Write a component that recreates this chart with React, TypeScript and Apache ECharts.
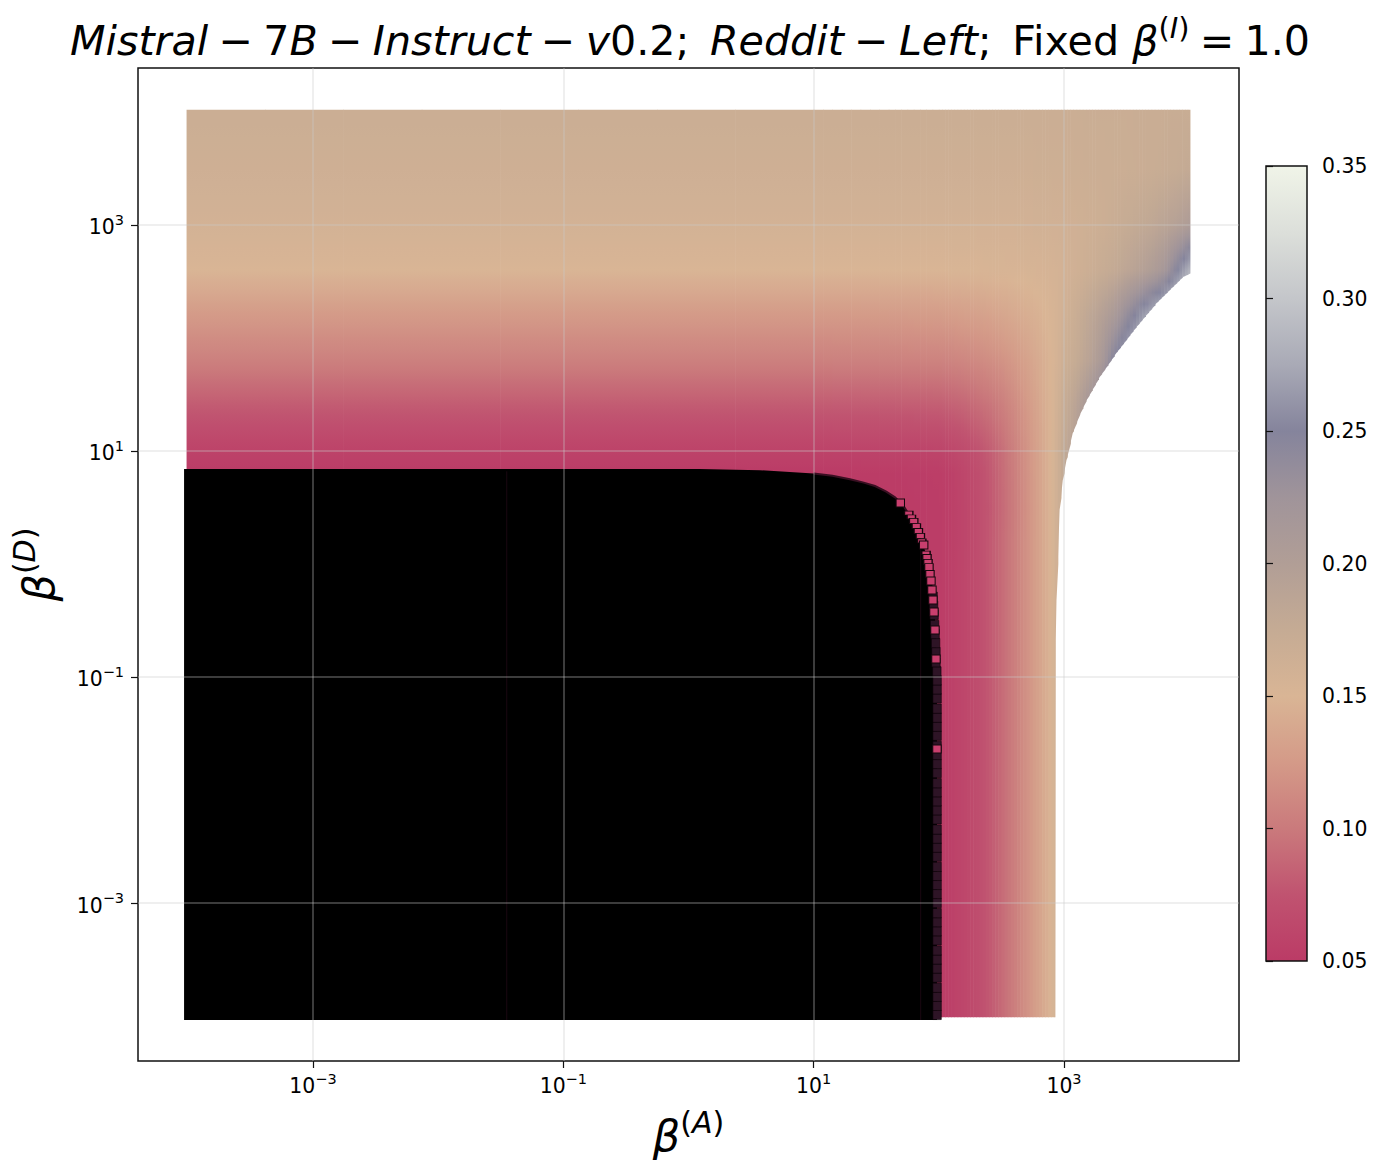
import React, { useEffect, useRef } from "react";
import * as echarts from "echarts";

const FONT = "DejaVu Sans";
const decadeTicks = [1e-3, 1e-1, 1e1, 1e3];
const colorbarColors = ["#bb3b66", "#c05370", "#ca7a7c", "#d49a88", "#d9b595", "#c5ab94", "#b19e96", "#a0949a", "#85849c", "#a9aab6", "#c4c6ca", "#dcdfda", "#f0f4e8"];
const colorMin = 0.05;
const colorMax = 0.35;

// log10(beta A) of each column and log10(beta D) of each row of the reading table
const logALevels = [-4.01, 1.0, 1.6, 2.0, 2.1, 2.2, 2.3, 2.4, 2.5, 2.6, 2.7, 2.8, 2.9, 3.0, 3.1, 3.2, 3.3, 3.4, 3.5, 3.6, 3.7, 3.8, 3.9, 4.01];
const logDLevels = [4.02, 3.5, 3.0, 2.6, 2.2, 1.8, 1.4, 1.0, 0.8, 0.5, 0.2, -0.2, -1.0, -4.01];
const valueColumns = [
  [0.168, 0.164, 0.158, 0.150, 0.125, 0.105, 0.080, 0.058, 0.050, 0.050, 0.050, 0.050, 0.050, 0.050],
  [0.168, 0.164, 0.158, 0.150, 0.125, 0.105, 0.080, 0.058, 0.050, 0.050, 0.050, 0.050, 0.050, 0.050],
  [0.168, 0.164, 0.158, 0.150, 0.126, 0.106, 0.081, 0.059, 0.051, 0.050, 0.050, 0.050, 0.050, 0.050],
  [0.168, 0.164, 0.158, 0.150, 0.127, 0.107, 0.082, 0.060, 0.053, 0.052, 0.052, 0.052, 0.052, 0.052],
  [0.168, 0.164, 0.158, 0.151, 0.128, 0.108, 0.084, 0.063, 0.056, 0.055, 0.055, 0.056, 0.056, 0.056],
  [0.168, 0.164, 0.158, 0.151, 0.130, 0.110, 0.087, 0.067, 0.062, 0.061, 0.061, 0.062, 0.062, 0.062],
  [0.168, 0.164, 0.158, 0.151, 0.131, 0.112, 0.091, 0.073, 0.068, 0.068, 0.068, 0.068, 0.068, 0.068],
  [0.168, 0.164, 0.158, 0.152, 0.133, 0.115, 0.096, 0.081, 0.078, 0.077, 0.078, 0.078, 0.078, 0.078],
  [0.168, 0.164, 0.158, 0.152, 0.136, 0.119, 0.103, 0.092, 0.090, 0.089, 0.090, 0.090, 0.090, 0.090],
  [0.168, 0.164, 0.158, 0.153, 0.139, 0.125, 0.113, 0.105, 0.103, 0.102, 0.103, 0.103, 0.103, 0.103],
  [0.168, 0.164, 0.159, 0.153, 0.143, 0.132, 0.124, 0.119, 0.118, 0.117, 0.118, 0.118, 0.118, 0.118],
  [0.168, 0.165, 0.160, 0.154, 0.147, 0.141, 0.137, 0.134, 0.133, 0.133, 0.133, 0.133, 0.133, 0.133],
  [0.168, 0.165, 0.160, 0.155, 0.152, 0.150, 0.150, 0.150, 0.150, 0.150, 0.150, 0.150, 0.150, 0.150],
  [0.168, 0.165, 0.161, 0.158, 0.160, 0.165, 0.172, 0.178, 0.178, 0.178, 0.178, 0.178, 0.178, 0.178],
  [0.168, 0.166, 0.162, 0.162, 0.170, 0.175, 0.190, 0.200, 0.210, 0.210, 0.210, 0.210, 0.210, 0.210],
  [0.169, 0.167, 0.164, 0.167, 0.183, 0.190, 0.220, 0.240, 0.250, 0.250, 0.250, 0.250, 0.250, 0.250],
  [0.169, 0.167, 0.166, 0.172, 0.195, 0.210, 0.250, 0.270, 0.280, 0.280, 0.280, 0.280, 0.280, 0.280],
  [0.169, 0.168, 0.170, 0.177, 0.210, 0.250, 0.280, 0.300, 0.300, 0.300, 0.300, 0.300, 0.300, 0.300],
  [0.169, 0.168, 0.174, 0.185, 0.235, 0.280, 0.300, 0.310, 0.310, 0.310, 0.310, 0.310, 0.310, 0.310],
  [0.170, 0.169, 0.178, 0.193, 0.258, 0.300, 0.310, 0.320, 0.320, 0.320, 0.320, 0.320, 0.320, 0.320],
  [0.170, 0.170, 0.182, 0.202, 0.280, 0.310, 0.320, 0.330, 0.330, 0.330, 0.330, 0.330, 0.330, 0.330],
  [0.170, 0.172, 0.188, 0.216, 0.300, 0.320, 0.330, 0.340, 0.340, 0.340, 0.340, 0.340, 0.340, 0.340],
  [0.171, 0.174, 0.195, 0.248, 0.320, 0.330, 0.340, 0.350, 0.350, 0.350, 0.350, 0.350, 0.350, 0.350],
  [0.171, 0.177, 0.205, 0.285, 0.330, 0.340, 0.350, 0.350, 0.350, 0.350, 0.350, 0.350, 0.350, 0.350],
];

// lower limit of the coloured region, right of the straight part
const edgeLogA = [2.93, 2.934, 2.94, 2.965, 2.99, 3.02, 3.07, 3.125, 3.18, 3.285, 3.42, 3.58, 3.74, 3.95, 4.01];
const edgeLogD = [-4.01, -0.67, -0.32, 0.48, 0.74, 0.92, 1.16, 1.32, 1.45, 1.655, 1.87, 2.10, 2.31, 2.54, 2.57];

// outline of the black (below colour range) block
const blackLogA = [-4.03, -4.03, 0.09, 0.57, 1.0, 1.15, 1.29, 1.40, 1.49, 1.58, 1.65, 1.72, 1.80, 1.86, 1.90, 1.94, 1.96, 1.975, 1.985, 1.985];
const blackLogD = [-4.035, 0.84, 0.84, 0.83, 0.80, 0.78, 0.75, 0.72, 0.69, 0.64, 0.59, 0.51, 0.37, 0.22, 0.08, -0.10, -0.30, -0.60, -1.0, -4.035];
const seamLogA = [-1.452, 1.855];
const seamTopLogD = [0.82, 0.18];

// dark squares at the right edge of the block
const stripLogD = [-3.99, -3.91, -3.83, -3.75, -3.66, -3.58, -3.50, -3.42, -3.33, -3.25, -3.17, -3.09, -3.00, -2.92, -2.84, -2.76, -2.68, -2.59, -2.51, -2.43, -2.35, -2.26, -2.18, -2.10, -2.02, -1.94, -1.85, -1.77, -1.69, -1.61, -1.52, -1.44, -1.36, -1.28, -1.19, -1.11, -1.03, -0.95, -0.87, -0.78, -0.70, -0.62, -0.54, -0.45, -0.37, -0.29];
const stripLogA = [1.986, 1.986, 1.986, 1.986, 1.986, 1.986, 1.986, 1.986, 1.986, 1.986, 1.986, 1.986, 1.986, 1.986, 1.986, 1.986, 1.986, 1.986, 1.986, 1.986, 1.986, 1.986, 1.986, 1.986, 1.986, 1.986, 1.986, 1.986, 1.986, 1.986, 1.986, 1.986, 1.986, 1.986, 1.986, 1.986, 1.986, 1.984, 1.977, 1.977, 1.974, 1.970, 1.966, 1.962, 1.958, 1.954];
// pink squares on that edge, top to bottom
const pinkLogA = [1.692, 1.759, 1.780, 1.799, 1.820, 1.836, 1.852, 1.863, 1.879, 1.897, 1.905, 1.913, 1.921, 1.929, 1.937, 1.945, 1.953, 1.961, 1.969, 1.977, 1.985];
const pinkLogD = [0.540, 0.451, 0.416, 0.381, 0.336, 0.292, 0.248, 0.204, 0.168, 0.097, 0.062, 0.018, -0.027, -0.088, -0.150, -0.230, -0.319, -0.425, -0.584, -0.841, -1.637];

const pow10 = (v: number) => Math.pow(10, v);
const colorOf = (v: number) => {
  const t = Math.min(1, Math.max(0, (v - colorMin) / (colorMax - colorMin)));
  return echarts.color.lerp(t, colorbarColors) as string;
};
const edgeAt = (a: number) => {
  if (a <= edgeLogA[0]) return edgeLogD[0];
  for (let i = 1; i < edgeLogA.length; i++) {
    if (a <= edgeLogA[i]) {
      const t = (a - edgeLogA[i - 1]) / (edgeLogA[i] - edgeLogA[i - 1]);
      return edgeLogD[i - 1] + t * (edgeLogD[i] - edgeLogD[i - 1]);
    }
  }
  return edgeLogD[edgeLogD.length - 1];
};

// Gouraud-style shading of the table: each table interval is painted as thin strips
type Strip = { a0: number; a1: number; column: number; t: number };
const strips: Strip[] = [];
for (let c = 0; c < logALevels.length - 1; c++) {
  const span = logALevels[c + 1] - logALevels[c];
  const n = Math.min(8, Math.ceil(span / 0.0251));
  for (let k = 0; k < n; k++) {
    strips.push({ a0: logALevels[c] + (span * k) / n, a1: logALevels[c] + (span * (k + 1)) / n, column: c, t: (k + 0.5) / n });
  }
}

const tickLabel = (v: number) => {
  const e = Math.round(Math.log10(v));
  return `{b|10}{s|${e < 0 ? "\u2212" + -e : e}}`;
};
const tickRich = {
  b: { fontFamily: FONT, fontSize: 20.4, color: "#000", verticalAlign: "bottom", padding: [5, 0, 0, 0] },
  s: { fontFamily: FONT, fontSize: 14.5, color: "#000", verticalAlign: "top" },
};

const titleText =
  "{i|Mistral}{u|\u2005\u2212\u20057}{i|B}{u|\u2005\u2212\u2005}{i|Instruct}{u|\u2005\u2212\u2005}{i|v}{u|0.2;\u2002}{i|Reddit}{u|\u2005\u2212\u2005}{i|Left}{u|;\u2002Fixed }{i|\u03b2}{s|(}{si|I}{s|)}{u|\u2005=\u20051.0}";

const TICK_COLOR = "#111";
const GRID_LINE = { color: "rgba(200,200,200,0.4)", width: 1.5 };

function App() {
  const ref = useRef<HTMLDivElement>(null);
  useEffect(() => {
    const chart = echarts.init(ref.current!, undefined, { renderer: "svg" });
    const bigRich = (size: number) => ({
      i: { fontFamily: FONT, fontSize: size, fontStyle: "italic", color: "#000", verticalAlign: "bottom", padding: [size * 0.18, 0, 0, 0] },
      s: { fontFamily: FONT, fontSize: size * 0.7, color: "#000", verticalAlign: "top" },
      si: { fontFamily: FONT, fontSize: size * 0.7, fontStyle: "italic", color: "#000", verticalAlign: "top" },
      u: { fontFamily: FONT, fontSize: size, color: "#000", verticalAlign: "bottom", padding: [size * 0.18, 0, 0, 0] },
    });
    chart.setOption({
      animation: false,
      backgroundColor: "#fff",
      title: {
        text: titleText,
        left: 685,
        top: 8,
        textAlign: "center",
        textStyle: { rich: bigRich(41.2), fontFamily: FONT, fontSize: 41.2, fontWeight: "normal", color: "#000" },
      },
      grid: [
        { left: 138, top: 68, width: 1101, height: 993, show: true, borderColor: TICK_COLOR, borderWidth: 1.5, backgroundColor: "#fff", outerBoundsMode: "none" },
        { left: 1266, top: 166, width: 41, height: 795, outerBoundsMode: "none" },
      ],
      xAxis: [
        {
          type: "log", logBase: 10, gridIndex: 0, min: pow10(-4.398), max: pow10(4.398), z: 10,
          name: `{i|\u03b2}{s|(}{si|A}{s|)}`, nameLocation: "middle", nameGap: 46,
          nameTextStyle: { rich: bigRich(43), fontFamily: FONT },
          axisLine: { show: false },
          axisTick: { show: true, length: 7, lineStyle: { color: TICK_COLOR, width: 1.2 }, customValues: decadeTicks },
          minorTick: { show: false },
          axisLabel: { customValues: decadeTicks, formatter: tickLabel, rich: tickRich, margin: 10, hideOverlap: false },
          splitLine: { show: true, lineStyle: GRID_LINE },
          minorSplitLine: { show: false },
        },
        { type: "value", gridIndex: 1, min: 0, max: 1, show: false },
      ],
      yAxis: [
        {
          type: "log", logBase: 10, gridIndex: 0, min: pow10(-4.398), max: pow10(4.389), z: 10,
          name: `{i|\u03b2}{s|(}{si|D}{s|)}`, nameLocation: "middle", nameGap: 78, nameRotate: 90,
          nameTextStyle: { rich: bigRich(43), fontFamily: FONT },
          axisLine: { show: false },
          axisTick: { show: true, length: 7, lineStyle: { color: TICK_COLOR, width: 1.2 }, customValues: decadeTicks },
          minorTick: { show: false },
          axisLabel: { customValues: decadeTicks, formatter: tickLabel, rich: tickRich, margin: 14, hideOverlap: false },
          splitLine: { show: true, lineStyle: GRID_LINE },
          minorSplitLine: { show: false },
        },
        {
          type: "value", gridIndex: 1, position: "right", min: colorMin, max: colorMax, interval: 0.05, z: 10,
          axisLine: { show: false },
          axisTick: { show: true, length: 7, lineStyle: { color: TICK_COLOR, width: 1.2 } },
          axisLabel: { formatter: (v: number) => v.toFixed(2), fontFamily: FONT, fontSize: 20.4, color: "#000", margin: 15 },
          splitLine: { show: false },
        },
      ],
      series: [
        {
          type: "custom", name: "heat", coordinateSystem: "cartesian2d", xAxisIndex: 0, yAxisIndex: 0, z: 2, silent: true, clip: false,
          data: strips.map((s) => [pow10(s.a0), pow10(logDLevels[0])]),
          renderItem: (params: any, api: any) => {
            const s = strips[params.dataIndex];
            const px = (a: number, d: number) => api.coord([pow10(a), pow10(d)]);
            const yTop = px(0, logDLevels[0])[1];
            const yBot = px(0, logDLevels[logDLevels.length - 1])[1];
            const left = valueColumns[s.column];
            const right = valueColumns[s.column + 1];
            const stops: { offset: number; color: string }[] = [];
            for (let r = 0; r < logDLevels.length - 1; r++) {
              const v0 = left[r] + s.t * (right[r] - left[r]);
              const v1 = left[r + 1] + s.t * (right[r + 1] - left[r + 1]);
              const y0 = px(0, logDLevels[r])[1];
              const y1 = px(0, logDLevels[r + 1])[1];
              for (let q = 0; q < 4; q++) {
                stops.push({ offset: (y0 + ((y1 - y0) * q) / 4 - yTop) / (yBot - yTop), color: colorOf(v0 + ((v1 - v0) * q) / 4) });
              }
            }
            const last = left.length - 1;
            stops.push({ offset: 1, color: colorOf(left[last] + s.t * (right[last] - left[last])) });
            const x0 = px(s.a0, 0)[0];
            const x1 = px(s.a1, 0)[0] + (s.a1 < 4 ? 0.6 : 0);
            const pts: number[][] = [[x0, yTop], [x1, yTop], [x1, px(0, edgeAt(s.a1))[1]]];
            for (let i = edgeLogA.length - 1; i >= 0; i--) {
              if (edgeLogA[i] < s.a1 && edgeLogA[i] > s.a0) pts.push([px(edgeLogA[i], 0)[0], px(0, edgeLogD[i])[1]]);
            }
            pts.push([x0, px(0, edgeAt(s.a0))[1]]);
            return {
              type: "polygon",
              shape: { points: pts },
              style: { fill: new echarts.graphic.LinearGradient(0, yTop, 0, yBot, stops, true) },
            };
          },
        },
        {
          type: "custom", name: "below range", coordinateSystem: "cartesian2d", xAxisIndex: 0, yAxisIndex: 0, z: 3, silent: true, clip: false,
          data: [[pow10(blackLogA[0]), pow10(blackLogD[0])]],
          renderItem: (_: any, api: any) => ({
            type: "group",
            children: [
              { type: "polygon", shape: { points: blackLogA.map((a, i) => api.coord([pow10(a), pow10(blackLogD[i])])) }, style: { fill: "#000" } },
              {
                type: "polyline",
                shape: { points: blackLogA.slice(4, 13).map((a, i) => api.coord([pow10(a), pow10(blackLogD[i + 4])])) },
                style: { fill: "none", stroke: "#3a0f22", lineWidth: 2 },
              },
              ...seamLogA.map((a, i) => {
                const p0 = api.coord([pow10(a), pow10(seamTopLogD[i])]);
                const p1 = api.coord([pow10(a), pow10(-4.035)]);
                return { type: "line", shape: { x1: p0[0], y1: p0[1], x2: p1[0], y2: p1[1] }, style: { stroke: "#1a0711", lineWidth: 1 } };
              }),
            ],
          }),
        },
        {
          type: "scatter", name: "edge", xAxisIndex: 0, yAxisIndex: 0, z: 4, silent: true, clip: false,
          symbol: "rect", symbolSize: [8.4, 9.3],
          itemStyle: { color: "#2e1426", borderColor: "#0a0206", borderWidth: 0.6, opacity: 1 },
          data: stripLogD.map((d, i) => [pow10(stripLogA[i]), pow10(d)]),
        },
        {
          type: "scatter", name: "edge pink", xAxisIndex: 0, yAxisIndex: 0, z: 5, silent: true, clip: false,
          symbol: "rect",
          symbolSize: (_: any, p: any) => {
            const i = p.dataIndex;
            const gap = i < pinkLogD.length - 1 ? (pinkLogD[i] - pinkLogD[i + 1]) * 113 : 8;
            return [8.4, Math.min(8, Math.max(2.5, gap))];
          },
          itemStyle: { color: "#c93f6e", borderColor: "#14060c", borderWidth: 1, opacity: 1 },
          data: pinkLogD.map((d, i) => [pow10(pinkLogA[i]), pow10(d)]),
        },
        {
          type: "custom", name: "colorbar", coordinateSystem: "cartesian2d", xAxisIndex: 1, yAxisIndex: 1, z: 2, silent: true, clip: false,
          data: [[0, colorMax]],
          renderItem: (_: any, api: any) => {
            const p0 = api.coord([0, colorMax]);
            const p1 = api.coord([1, colorMin]);
            return {
              type: "rect",
              shape: { x: p0[0], y: p0[1], width: p1[0] - p0[0], height: p1[1] - p0[1] },
              style: {
                fill: new echarts.graphic.LinearGradient(0, 1, 0, 0, colorbarColors.map((color, i) => ({ offset: i / (colorbarColors.length - 1), color }))),
                stroke: TICK_COLOR,
                lineWidth: 1.5,
              },
            };
          },
        },
      ],
    });
    return () => chart.dispose();
  }, []);
  return <div ref={ref} style={{ position: "fixed", left: 0, top: 0, width: 1381, height: 1173, background: "#fff" }} />;
}

export default App;
